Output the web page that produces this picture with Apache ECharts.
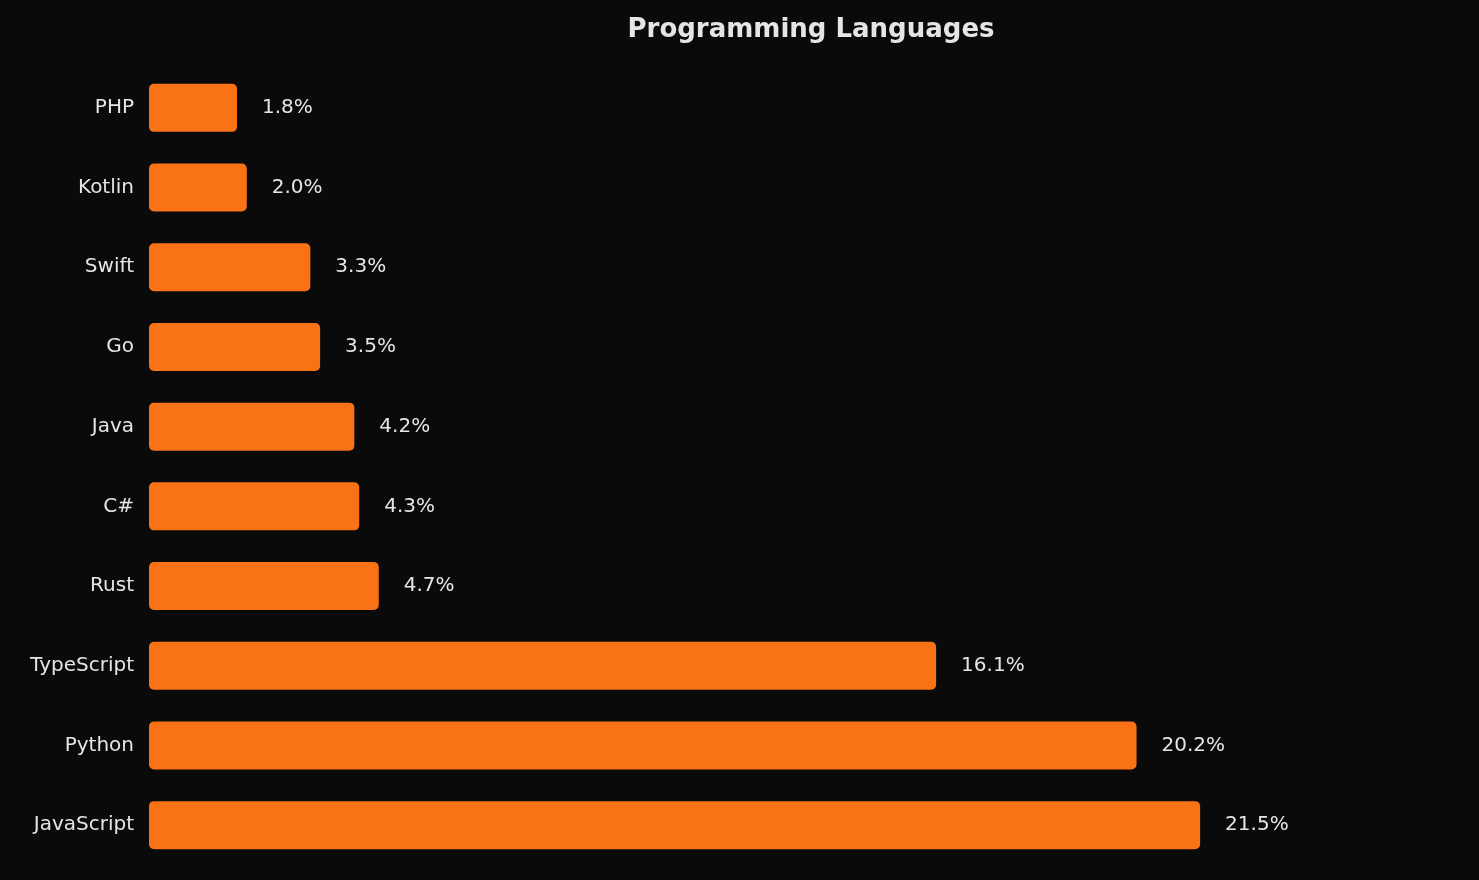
<!DOCTYPE html>
<html>
<head>
<meta charset="utf-8">
<script src="https://cdn.jsdelivr.net/npm/echarts@6/dist/echarts.min.js"></script>
<style>html,body{margin:0;background:#0a0a0a}#c{width:1479px;height:880px}</style>
</head>
<body>
<div id="c"></div>
<script>
const languages = ['JavaScript', 'Python', 'TypeScript', 'Rust', 'C#', 'Java', 'Go', 'Swift', 'Kotlin', 'PHP']
const shares = [21.5, 20.2, 16.1, 4.7, 4.3, 4.2, 3.5, 3.3, 2.0, 1.8]

const chart = echarts.init(document.getElementById('c'))
chart.setOption({
  backgroundColor: '#0a0a0a',
  textStyle: { fontFamily: 'DejaVu Sans' },
  title: {
    text: 'Programming Languages',
    left: 806, textAlign: 'center', top: 12,
    textStyle: { color: '#e5e5e5', fontSize: 26, fontWeight: 'bold', fontFamily: 'DejaVu Sans' }
  },
  grid: { left: 149, right: 10, top: 68, bottom: 15 },
  xAxis: { type: 'value', min: 0, max: 27, show: false },
  yAxis: {
    type: 'category', data: languages,
    axisLine: { show: false }, axisTick: { show: false },
    axisLabel: { color: '#e5e5e5', fontSize: 20, margin: 15 }
  },
  series: [{
    type: 'bar', data: shares, barWidth: 48,
    itemStyle: { color: '#f97316', borderRadius: 5 },
    label: {
      show: true, position: 'right', distance: 25,
      color: '#e5e5e5', fontSize: 20,
      formatter: p => p.value.toFixed(1) + '%'
    }
  }]
})
</script>
</body>
</html>
